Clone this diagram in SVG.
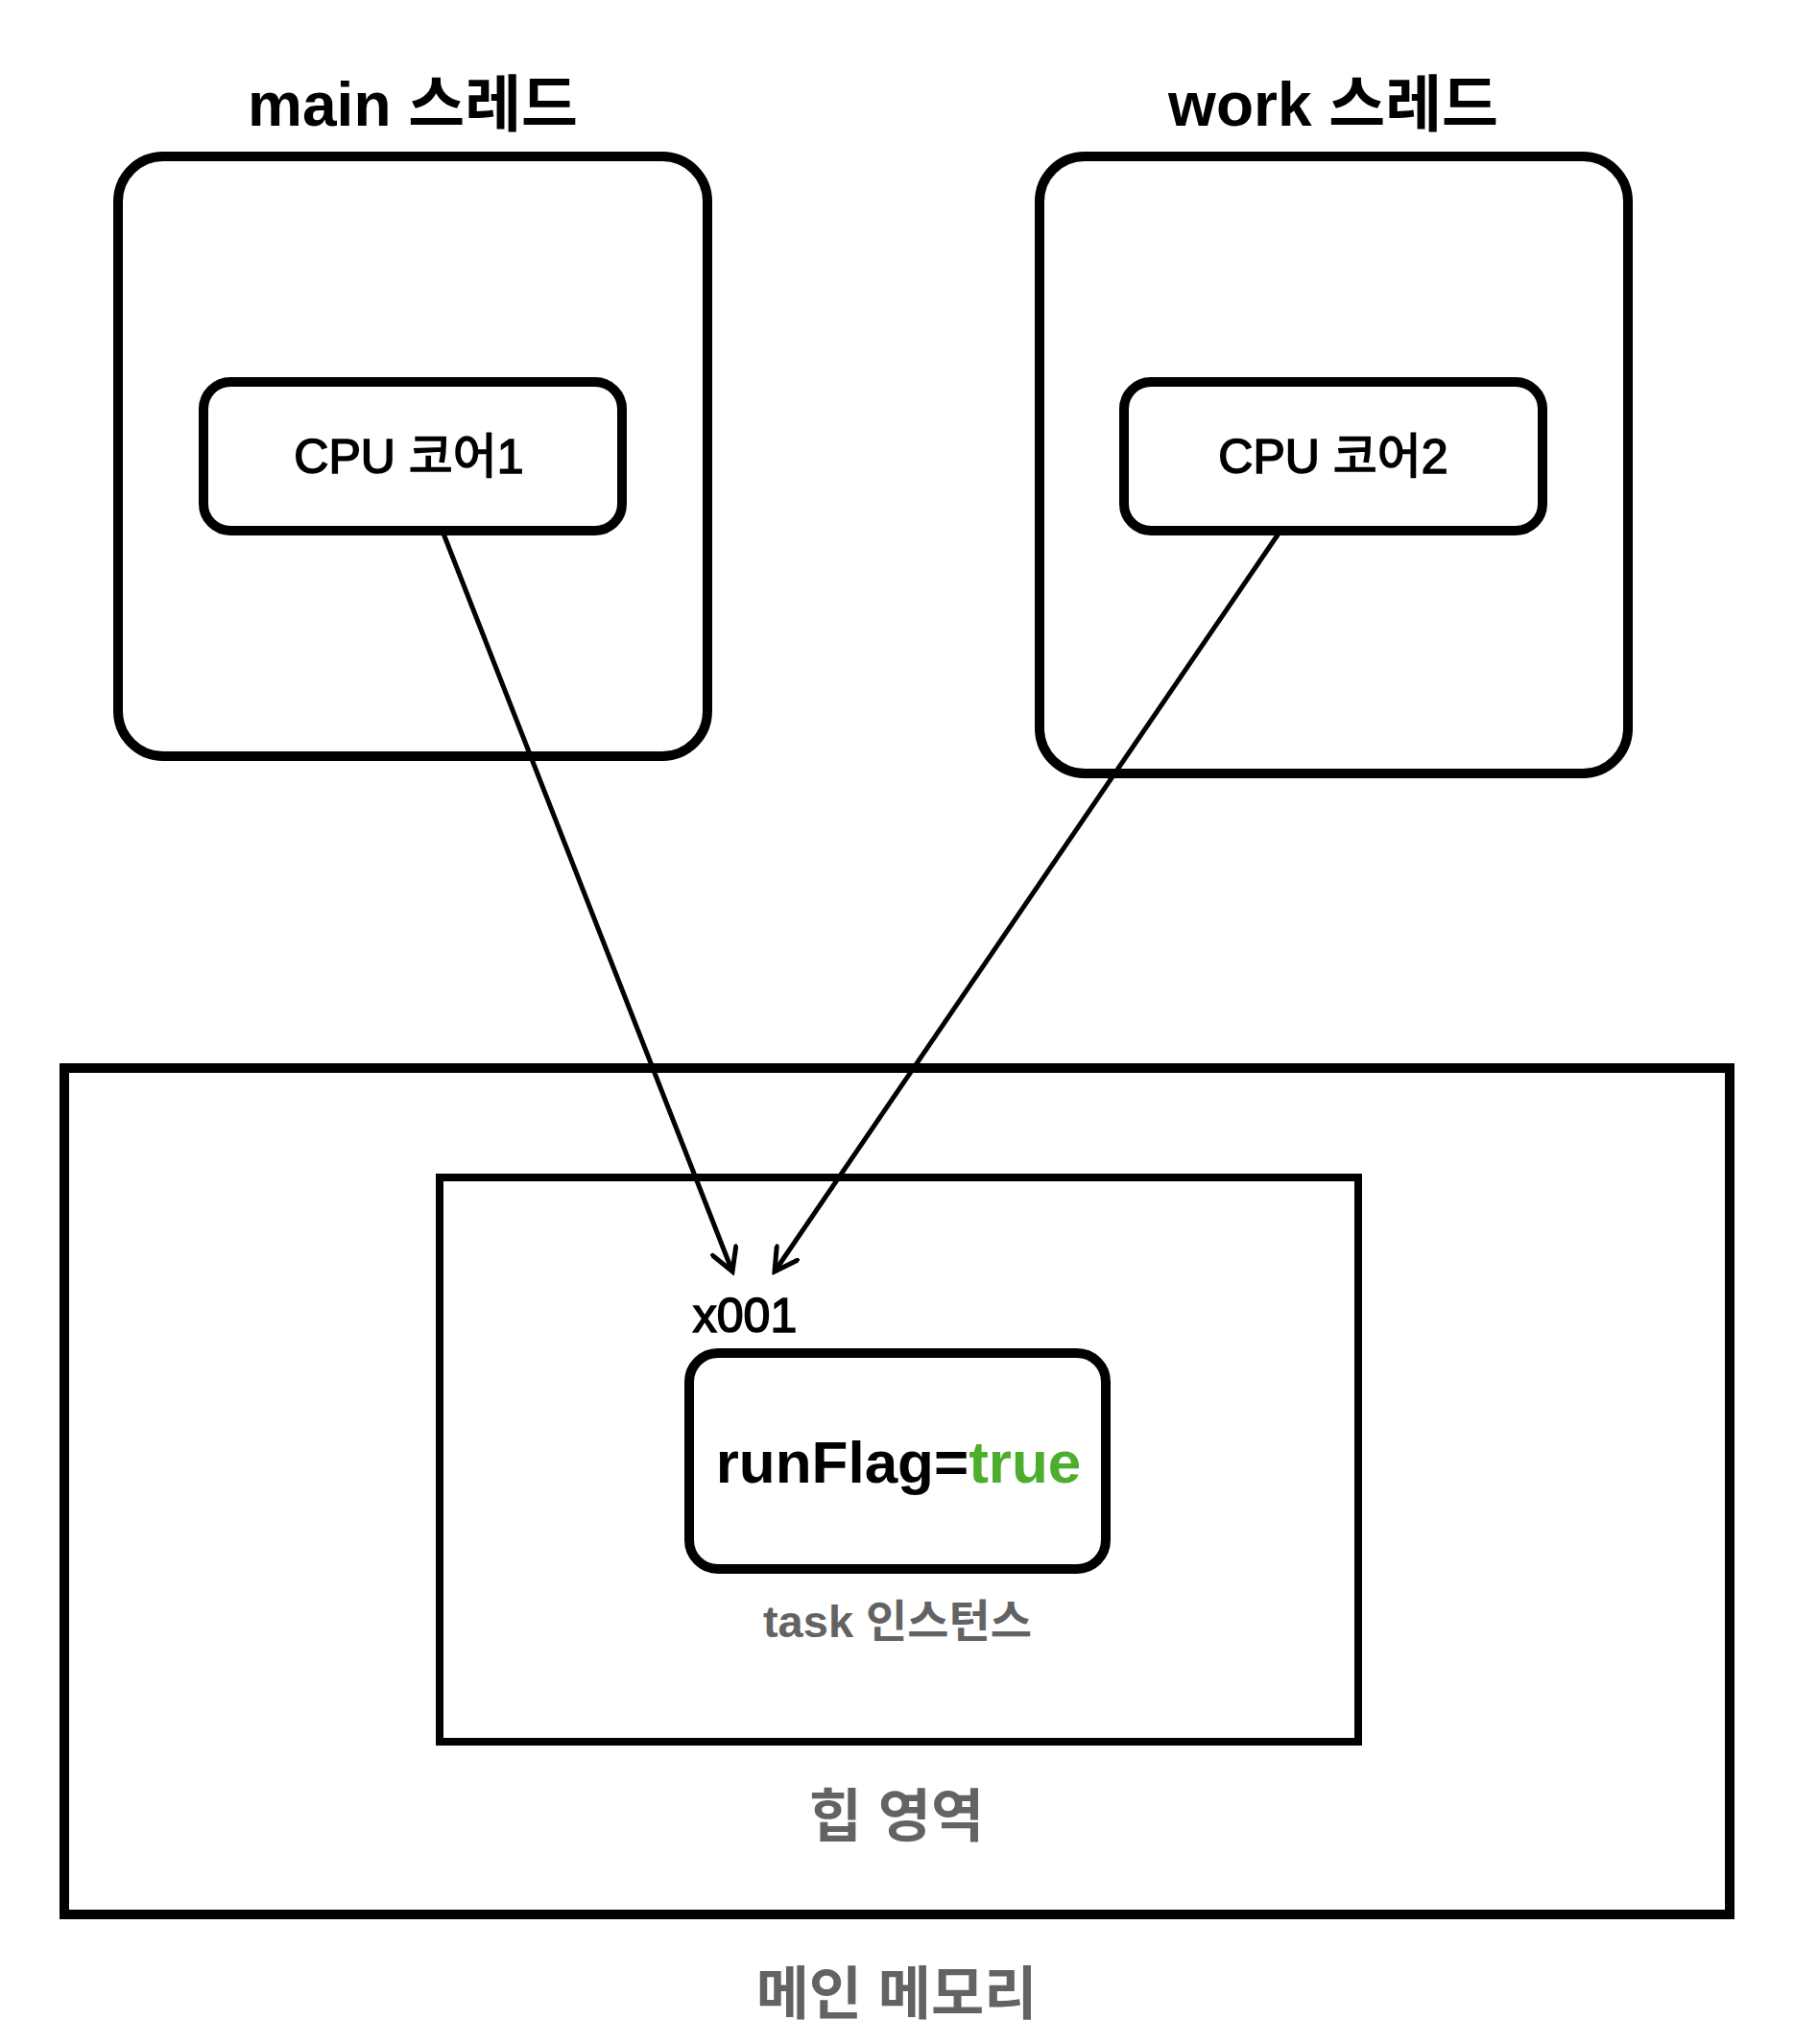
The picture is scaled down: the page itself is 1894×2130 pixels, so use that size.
<svg xmlns="http://www.w3.org/2000/svg" width="1894" height="2130" viewBox="0 0 1894 2130">
<defs>
<style>
.box{fill:#fff;stroke:#000;stroke-width:10}
.heap{fill:none;stroke:#000;stroke-width:8}
.conn{fill:none;stroke:#000;stroke-width:5}
.t{font-family:"Liberation Sans","Noto Sans CJK KR",sans-serif;text-anchor:middle}
.title{font-size:64px;font-weight:bold;fill:#000}
.core{font-size:50px;font-weight:normal;fill:#000;stroke:#000;stroke-width:1.6}
.gray{font-weight:bold;fill:#636363}
</style>
<marker id="arr" viewBox="-26 -15 30 30" markerWidth="30" markerHeight="30" refX="0" refY="0" orient="auto" markerUnits="userSpaceOnUse">
<path d="M-23,-13 L0,0 L-23,13" fill="none" stroke="#000" stroke-width="5" stroke-linejoin="miter" stroke-linecap="round"/>
</marker>
</defs>
<rect width="1894" height="2130" fill="#fff"/>

<g id="main-memory">
<rect class="box" x="67" y="1113" width="1735" height="882" fill="none"/>
<text class="t gray" x="934" y="2099" font-size="60">메인 메모리</text>
</g>

<g id="heap">
<rect class="heap" x="458" y="1227" width="957" height="588"/>
<text class="t gray" x="934" y="1914" font-size="60">힙 영역</text>
</g>

<g id="main-thread">
<text class="t title" x="430" y="131">main 스레드</text>
<rect class="box" x="123" y="163" width="614" height="625" rx="47" ry="47"/>
</g>

<g id="work-thread">
<text class="t title" x="1389" y="131">work 스레드</text>
<rect class="box" x="1083" y="163" width="613" height="643" rx="47" ry="47"/>
</g>

<g id="cpu1">
<rect class="box" x="212" y="398" width="436" height="155" rx="28" ry="28"/>
<text class="t core" x="426" y="493">CPU 코어1</text>
</g>

<g id="cpu2">
<rect class="box" x="1171" y="398" width="436" height="155" rx="28" ry="28"/>
<text class="t core" x="1389" y="493">CPU 코어2</text>
</g>

<g id="task">
<text class="t core" x="776" y="1388">x001</text>
<rect class="box" x="718" y="1410" width="434" height="225" rx="30" ry="30"/>
<text class="t" x="936" y="1545" font-size="62" font-weight="bold"><tspan fill="#000">runFlag=</tspan><tspan fill="#4cae2c">true</tspan></text>
<text class="t gray" x="935" y="1706" font-size="47">task 인스턴스</text>
</g>

<g id="connectors">
<line class="conn" x1="462" y1="556" x2="763" y2="1325" marker-end="url(#arr)"/>
<line class="conn" x1="1332" y1="556" x2="807" y2="1325" marker-end="url(#arr)"/>
</g>
</svg>
